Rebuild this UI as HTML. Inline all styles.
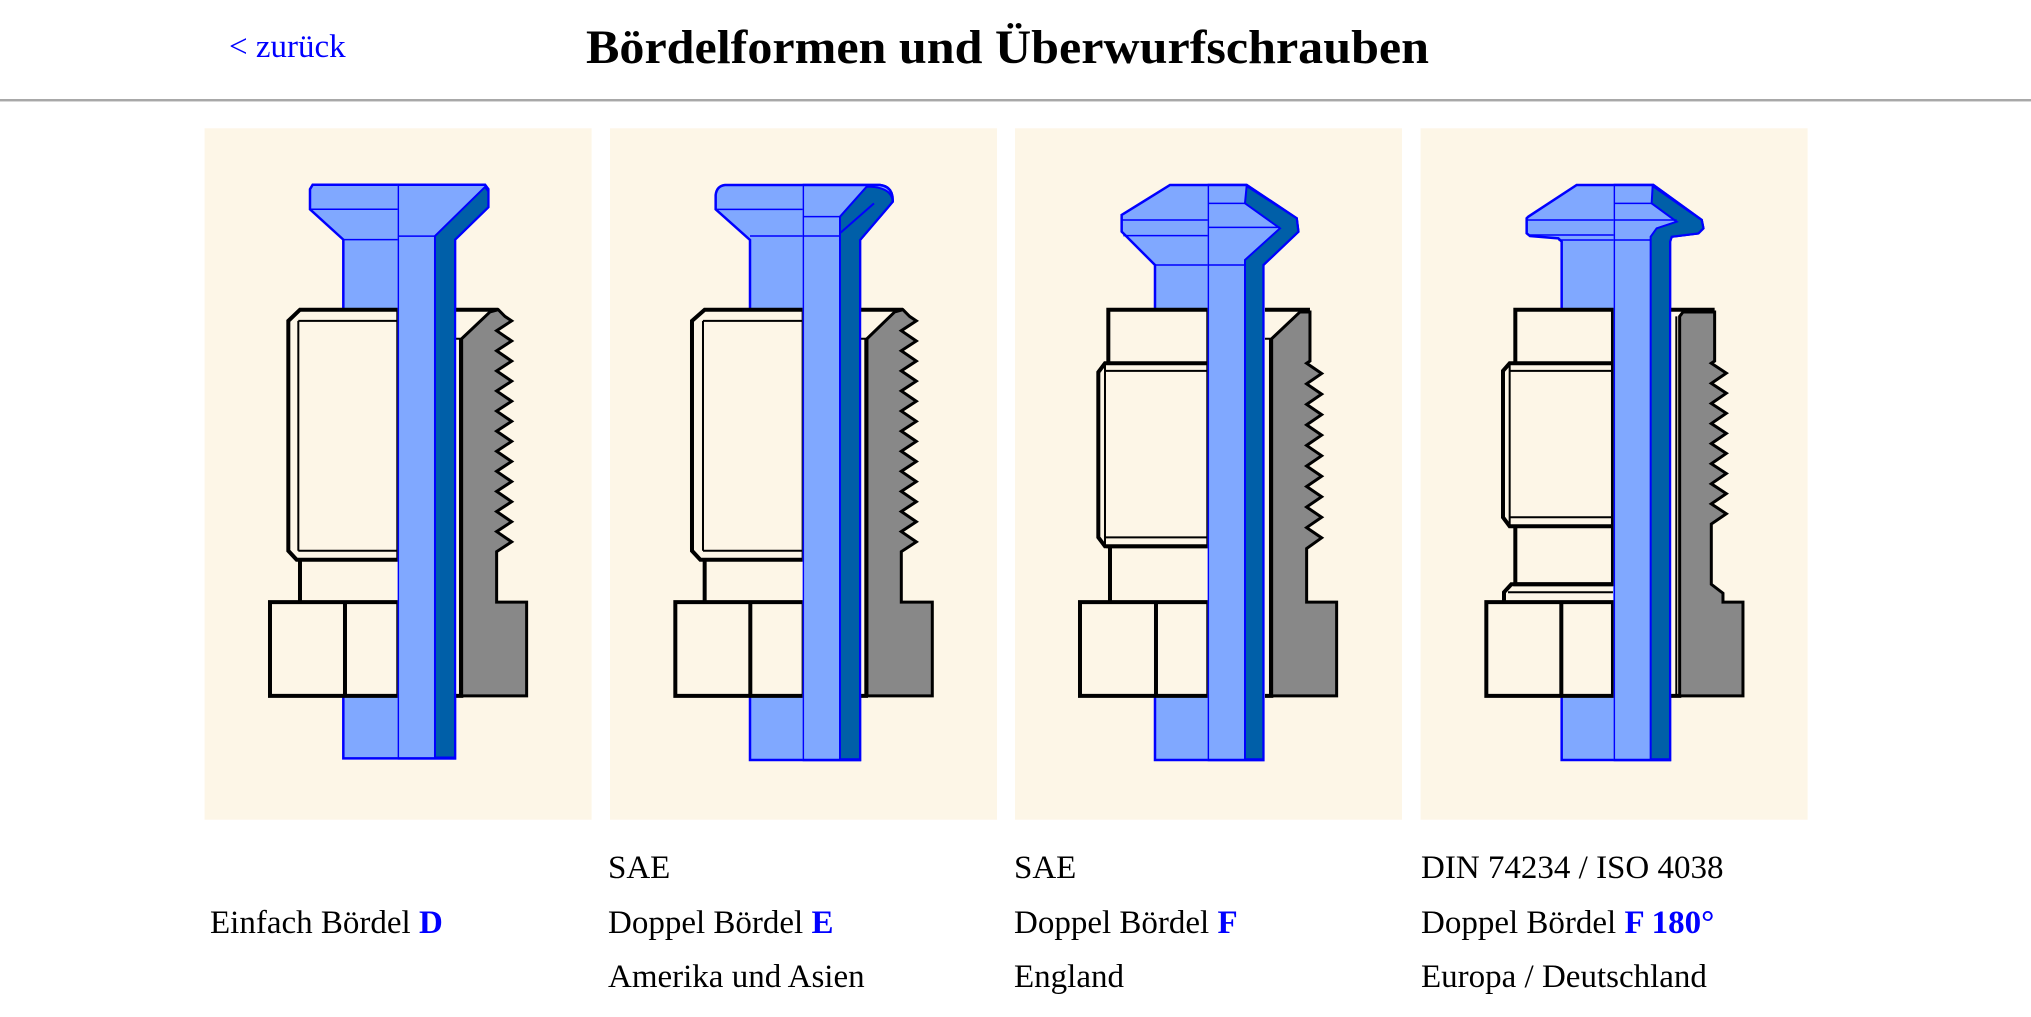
<!DOCTYPE html>
<html><head><meta charset="utf-8">
<style>
html,body{margin:0;padding:0;background:#fff;}
svg{display:block;}
svg *{vector-effect:non-scaling-stroke;}
.t{font-family:"Liberation Serif",serif;}
</style></head>
<body>
<svg width="2031" height="1017" viewBox="0 0 2031 1017" xmlns="http://www.w3.org/2000/svg" xmlns:xlink="http://www.w3.org/1999/xlink">
<defs>
  <g id="t1">
    <path d="M338,145 L855,145 L865,155 L865,195 L765,268 L765,1430 L430,1430 L430,268 L330,200 L330,155 Z" fill="#80a8ff" stroke="#0000ff" stroke-width="2.5"/>
    <path d="M855,150 L865,160 L865,195 L765,268 L765,1428 L705,1428 L705,260 Z" fill="#005fa8" stroke="#0000ff" stroke-width="2"/>
    <path d="M595,145 L595,1430 M330,200 L595,200 M430,268 L595,268 M595,260 L705,260" stroke="#0000ff" stroke-width="1.5" fill="none"/>
  </g>
  <g id="t2">
    <path d="M75,45 L540,45 Q580,50 578,95 L480,210 L480,1770 L150,1770 L150,210 L47,118 L47,75 Q50,48 75,45 Z" fill="#80a8ff" stroke="#0000ff" stroke-width="2.5"/>
    <path d="M500,50 Q575,50 578,95 L480,210 L480,1768 L420,1768 L420,140 Z" fill="#005fa8" stroke="#0000ff" stroke-width="2"/>
    <path d="M422,188 L522,100" stroke="#0000ff" stroke-width="2" fill="none"/>
    <path d="M310,45 L310,1770 M47,118 L310,118 M310,140 L420,140 M150,198 L420,198" stroke="#0000ff" stroke-width="1.5" fill="none"/>
  </g>
  <g id="t3">
    <path d="M240,45 L470,45 L620,145 L625,185 L520,285 L520,1770 L195,1770 L195,285 L95,185 L95,135 Z" fill="#80a8ff" stroke="#0000ff" stroke-width="2.5"/>
    <path d="M470,48 L620,145 L625,185 L520,285 L520,1768 L465,1768 L465,270 L570,175 L465,100 Z" fill="#005fa8" stroke="#0000ff" stroke-width="2"/>
    <path d="M355,45 L355,1770 M355,100 L465,100 M95,150 L355,150 M355,172 L570,172 M100,197 L355,197 M195,285 L465,285" stroke="#0000ff" stroke-width="1.5" fill="none"/>
  </g>
  <g id="t4">
    <path d="M230,45 L460,45 L605,150 L610,175 L595,190 L515,200 L510,215 L510,1770 L185,1770 L185,215 L175,205 L90,198 L80,190 L80,145 L85,140 Z" fill="#80a8ff" stroke="#0000ff" stroke-width="2.5"/>
    <path d="M458,48 L605,150 L610,175 L595,190 L515,200 L510,215 L510,1768 L452,1768 L452,200 L470,175 L530,155 L455,100 Z" fill="#005fa8" stroke="#0000ff" stroke-width="2"/>
    <path d="M343,45 L343,1770 M343,100 L455,100 M80,150 L530,150 M90,195 L343,195 M175,210 L452,210" stroke="#0000ff" stroke-width="1.5" fill="none"/>
  </g>
  <clipPath id="c1" clipPathUnits="userSpaceOnUse"><rect x="593" y="0" width="1000" height="3000"/></clipPath>
  <clipPath id="c2" clipPathUnits="userSpaceOnUse"><rect x="308" y="0" width="1000" height="3000"/></clipPath>
  <clipPath id="c3" clipPathUnits="userSpaceOnUse"><rect x="353" y="0" width="1000" height="3000"/></clipPath>
  <clipPath id="c4" clipPathUnits="userSpaceOnUse"><rect x="341" y="0" width="1000" height="3000"/></clipPath>
</defs>
<rect width="2031" height="1017" fill="#fff"/>
<text class="t" x="229" y="57" font-size="33" fill="#0000ff">&lt; zurück</text>
<text class="t" x="586" y="63" font-size="48" font-weight="bold" fill="#000" textLength="843" lengthAdjust="spacingAndGlyphs">Bördelformen und Überwurfschrauben</text>
<rect x="0" y="99" width="2031" height="2" fill="#a8a8a8"/>
<rect x="0" y="101" width="2031" height="1" fill="#d8d8d8"/>

<rect x="204.6" y="128.3" width="387" height="691.4" fill="#fdf6e7"/>
<rect x="610" y="128.3" width="387" height="691.4" fill="#fdf6e7"/>
<rect x="1015" y="128.3" width="387" height="691.4" fill="#fdf6e7"/>
<rect x="1420.6" y="128.3" width="387" height="691.4" fill="#fdf6e7"/>

<!-- PANEL 1 -->
<g transform="translate(200,120) scale(0.3333,0.4464)"><use xlink:href="#t1"/></g>
<g transform="translate(200,120) scale(0.3333,0.4464)" stroke="#000">
  <rect x="300" y="985" width="295" height="95" fill="#fdf6e7" stroke="none"/>
  <path d="M300,425 L595,425 L595,985 L290,985 L265,965 L265,450 Z" fill="#fdf6e7" stroke-width="4"/>
  <path d="M295,450 L295,965 M295,450 L595,450 M295,965 L595,965" fill="none" stroke-width="2"/>
  <path d="M300,985 L300,1080" stroke-width="4" fill="none"/>
  <rect x="210" y="1080" width="385" height="210" fill="#fdf6e7" stroke-width="4"/>
  <path d="M435,1080 L435,1290" stroke-width="4"/>
  <rect x="765" y="425" width="20" height="865" fill="#fdf6e7" stroke="none"/>
  <path d="M780,490 L780,1290" stroke-width="2"/>
  <path d="M765,425 L895,425 M765,1290 L790,1290" stroke-width="4" fill="none"/>
  <path d="M785,490 L870,430 L895,425 L915,440 935,450 890,472 935,495 890,517 935,540 890,562 935,585 890,607 935,630 890,652 935,675 890,697 935,720 890,742 935,765 890,787 935,810 890,832 935,855 890,877 935,900 890,922 935,945 890,967 L890,1080 L980,1080 L980,1290 L785,1290 Z" fill="#888" stroke-width="3"/>
  <path d="M765,490 L785,490" stroke-width="2"/>
</g>
<g transform="translate(200,120) scale(0.3333,0.4464)"><use xlink:href="#t1" clip-path="url(#c1)"/></g>

<!-- PANEL 2 -->
<g transform="translate(700,170) scale(0.3333,0.3333)"><use xlink:href="#t2"/></g>
<g transform="translate(613,120) scale(0.3333,0.4464)" stroke="#000">
  <rect x="275" y="985" width="297" height="95" fill="#fdf6e7" stroke="none"/>
  <path d="M275,425 L572,425 L572,985 L262,985 L237,965 L237,450 Z" fill="#fdf6e7" stroke-width="4"/>
  <path d="M270,450 L270,965 M270,450 L572,450 M270,965 L572,965" fill="none" stroke-width="2"/>
  <path d="M275,985 L275,1080" stroke-width="4" fill="none"/>
  <rect x="187" y="1080" width="385" height="210" fill="#fdf6e7" stroke-width="4"/>
  <path d="M412,1080 L412,1290" stroke-width="4"/>
  <rect x="740" y="425" width="22" height="865" fill="#fdf6e7" stroke="none"/>
  <path d="M757,490 L757,1290" stroke-width="2"/>
  <path d="M740,425 L870,425 M740,1290 L765,1290" stroke-width="4" fill="none"/>
  <path d="M762,490 L845,430 L870,425 L890,440 910,450 865,472 910,495 865,517 910,540 865,562 910,585 865,607 910,630 865,652 910,675 865,697 910,720 865,742 910,765 865,787 910,810 865,832 910,855 865,877 910,900 865,922 910,945 865,967 L865,1080 L958,1080 L958,1290 L762,1290 Z" fill="#888" stroke-width="3"/>
  <path d="M740,490 L762,490" stroke-width="2"/>
</g>
<g transform="translate(700,170) scale(0.3333,0.3333)"><use xlink:href="#t2" clip-path="url(#c2)"/></g>

<!-- PANEL 3 -->
<g transform="translate(1090,170) scale(0.3333,0.3333)"><use xlink:href="#t3"/></g>
<g transform="translate(1020,120) scale(0.3333,0.4464)" stroke="#000">
  <rect x="270" y="955" width="295" height="125" fill="#fdf6e7" stroke="none"/>
  <rect x="265" y="425" width="300" height="530" fill="#fdf6e7" stroke-width="4"/>
  <path d="M255,545 L565,545 L565,955 L255,955 L235,935 L235,565 Z" fill="#fdf6e7" stroke-width="4"/>
  <path d="M255,562 L565,562 M255,935 L565,935 M255,545 L255,955" fill="none" stroke-width="2"/>
  <path d="M270,955 L270,1080" stroke-width="4" fill="none"/>
  <rect x="180" y="1080" width="385" height="210" fill="#fdf6e7" stroke-width="4"/>
  <path d="M408,1080 L408,1290" stroke-width="4"/>
  <rect x="735" y="425" width="20" height="865" fill="#fdf6e7" stroke="none"/>
  <path d="M750,490 L750,1290" stroke-width="2"/>
  <path d="M735,425 L870,425 M735,1290 L760,1290" stroke-width="4" fill="none"/>
  <path d="M755,490 L840,430 L870,430 L870,540 L860,545 905,568 860,591 905,614 860,637 905,660 860,683 905,706 860,729 905,752 860,775 905,798 860,821 905,844 860,867 905,890 860,913 905,936 860,960 L860,1080 L950,1080 L950,1290 L755,1290 Z" fill="#888" stroke-width="3"/>
  <path d="M735,490 L755,490" stroke-width="2"/>
</g>
<g transform="translate(1090,170) scale(0.3333,0.3333)"><use xlink:href="#t3" clip-path="url(#c3)"/></g>

<!-- PANEL 4 -->
<g transform="translate(1500,170) scale(0.3333,0.3333)"><use xlink:href="#t4"/></g>
<g transform="translate(1428,120) scale(0.3333,0.4464)" stroke="#000">
  <path d="M228,1080 L228,1058 L250,1040 L555,1040 L555,1080 Z" fill="#fdf6e7" stroke="none"/>
  <rect x="262" y="425" width="293" height="615" fill="#fdf6e7" stroke-width="4"/>
  <path d="M245,545 L555,545 L555,910 L245,910 L225,890 L225,562 Z" fill="#fdf6e7" stroke-width="4"/>
  <path d="M245,562 L555,562 M245,890 L555,890 M245,545 L245,910" fill="none" stroke-width="2"/>
  <path d="M555,1040 L250,1040 L228,1058 L228,1080" fill="none" stroke-width="4"/>
  <path d="M240,1058 L555,1058" stroke-width="2"/>
  <rect x="175" y="1080" width="380" height="210" fill="#fdf6e7" stroke-width="4"/>
  <path d="M400,1080 L400,1290" stroke-width="4"/>
  <rect x="725" y="425" width="30" height="865" fill="#fdf6e7" stroke="none"/>
  <path d="M745,440 L745,1290" stroke-width="2"/>
  <path d="M725,425 L860,425 M725,1290 L760,1290" stroke-width="4" fill="none"/>
  <path d="M755,440 L765,430 L860,430 L860,540 L850,545 895,567 850,590 895,612 850,635 895,657 850,680 895,702 850,725 895,747 850,770 895,792 850,815 895,837 850,860 895,882 850,905 L850,1040 L885,1060 L885,1080 L945,1080 L945,1290 L755,1290 Z" fill="#888" stroke-width="3"/>
</g>
<g transform="translate(1500,170) scale(0.3333,0.3333)"><use xlink:href="#t4" clip-path="url(#c4)"/></g>

<!-- Labels -->
<g class="t" font-size="33" fill="#000">
  <text x="210" y="933">Einfach Bördel <tspan fill="#0000ff" font-weight="bold">D</tspan></text>
  <text x="608" y="878">SAE</text>
  <text x="608" y="933">Doppel Bördel <tspan fill="#0000ff" font-weight="bold">E</tspan></text>
  <text x="608" y="987">Amerika und Asien</text>
  <text x="1014" y="878">SAE</text>
  <text x="1014" y="933">Doppel Bördel <tspan fill="#0000ff" font-weight="bold">F</tspan></text>
  <text x="1014" y="987">England</text>
  <text x="1421" y="878">DIN 74234 / ISO 4038</text>
  <text x="1421" y="933">Doppel Bördel <tspan fill="#0000ff" font-weight="bold">F 180°</tspan></text>
  <text x="1421" y="987">Europa / Deutschland</text>
</g>
</svg>
</body></html>
